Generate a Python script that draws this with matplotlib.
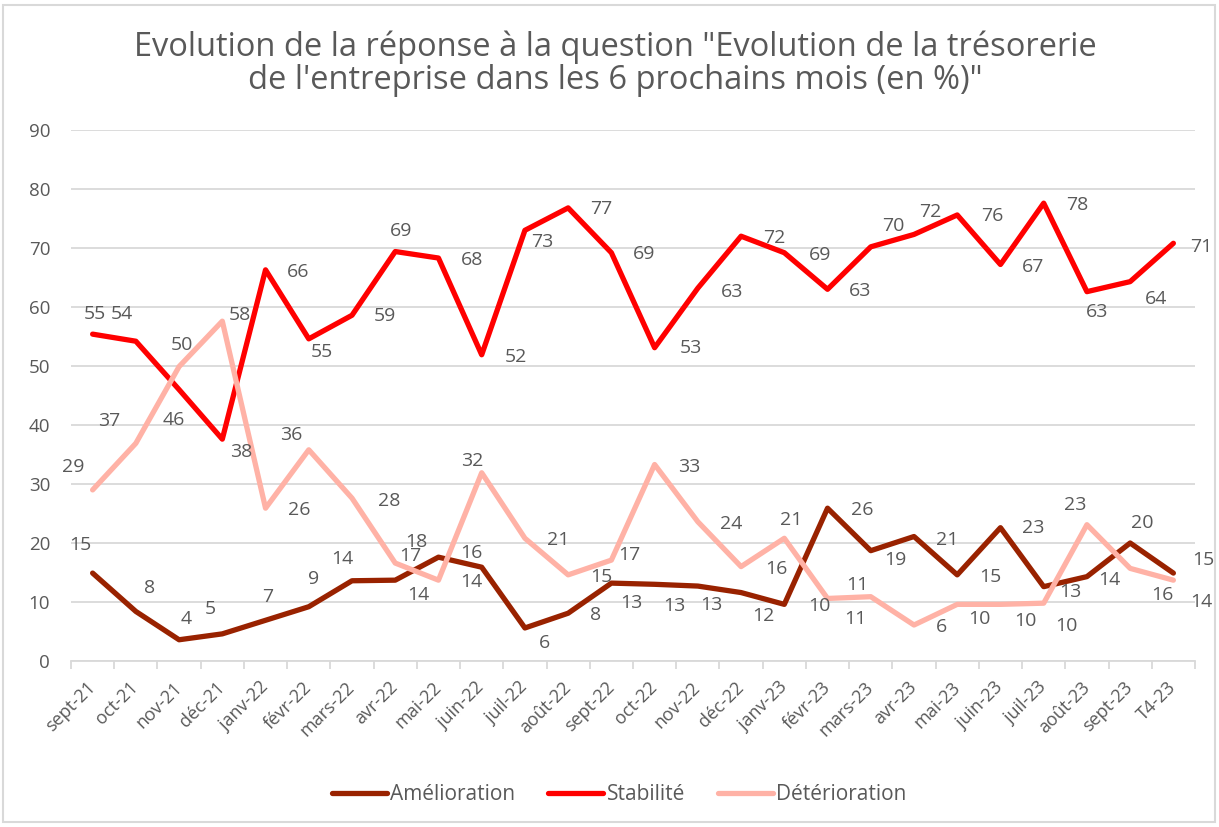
import numpy as np
import matplotlib.pyplot as plt
from matplotlib.patches import Rectangle

# Categories (months) and the three series, in %
mois = ['sept-21', 'oct-21', 'nov-21', 'déc-21', 'janv-22', 'févr-22', 'mars-22',
        'avr-22', 'mai-22', 'juin-22', 'juil-22', 'août-22', 'sept-22', 'oct-22',
        'nov-22', 'déc-22', 'janv-23', 'févr-23', 'mars-23', 'avr-23', 'mai-23',
        'juin-23', 'juil-23', 'août-23', 'sept-23', 'T4-23']

amelioration = [14.9, 8.4, 3.6, 4.6, 6.9, 9.2, 13.6, 13.7, 17.6, 15.9, 5.6, 8.1, 13.2,
                13.0, 12.7, 11.6, 9.6, 25.9, 18.7, 21.1, 14.6, 22.6, 12.6, 14.3, 20.0, 14.9]
stabilite = [55.4, 54.2, 46.0, 37.6, 66.3, 54.6, 58.6, 69.4, 68.3, 51.9, 73.0, 76.8, 69.2,
             53.1, 63.2, 72.0, 69.2, 63.0, 70.2, 72.3, 75.6, 67.2, 77.6, 62.6, 64.3, 70.8]
deterioration = [29.0, 36.9, 49.9, 57.6, 25.9, 35.8, 27.6, 16.6, 13.7, 31.9, 20.8, 14.6, 17.1,
                 33.3, 23.6, 16.0, 20.8, 10.6, 10.9, 6.1, 9.6, 9.6, 9.8, 23.1, 15.7, 13.7]

# label placement, pixel offsets (dx, dy downwards) from each point
off_amel = [(-12, -28), (14, -23), (7, -21), (-12, -25), (2, -23), (5, -28), (-10, -22),
            (23, 15), (-22, -15), (-10, -14), (20, 15), (27, 2), (20, 20), (20, 22), (13, 19),
            (22, 23), (35, 2), (35, 2), (25, 9), (33, 3), (33, 2), (33, 0), (27, 5), (22, 3),
            (12, -20), (30, -13)]
off_stab = [(2, -20), (-14, -27), (-5, 30), (19, 13), (33, 2), (13, 13), (33, 1), (6, -21),
            (34, 2), (34, 2), (17, 12), (33, 1), (33, 1), (36, 0), (34, 4), (33, 2), (36, 2),
            (33, 2), (23, -21), (16, -22), (35, 1), (33, 2), (34, 2), (10, 20), (26, 17), (28, 4)]
off_det = [(-19, -23), (-27, -22), (3, -22), (18, -6), (34, 2), (-18, -15), (37, 3), (15, -7),
           (33, 2), (-9, -12), (33, 2), (33, 2), (18, -5), (35, 2), (33, 2), (35, 2), (7, -18),
           (30, -13), (-15, 22), (27, 2), (22, 15), (25, 17), (23, 23), (-12, -20), (32, 27),
           (28, 22)]

plt.rcParams['font.family'] = ['Open Sans', 'DejaVu Sans']
text_col = '#595959'
grid_col = '#D9D9D9'

W, H = 1219, 827
fig = plt.figure(figsize=(W / 100, H / 100), dpi=100)
ax = fig.add_axes([71 / W, 1 - 661 / H, (1195 - 71) / W, (661 - 130) / H])

x = np.arange(len(mois))
series = [('Amélioration', amelioration, '#992200', off_amel),
          ('Stabilité', stabilite, '#FF0000', off_stab),
          ('Détérioration', deterioration, '#FFB2A6', off_det)]

handles = []
for name, vals, col, offs in series:
    ln, = ax.plot(x, vals, color=col, lw=3.8, label=name,
                  solid_joinstyle='round', solid_capstyle='round')
    handles.append(ln)
    for xi, v, (dx, dy) in zip(x, vals, offs):
        ax.annotate('%.0f' % v, (xi, v), xytext=(dx, -dy), textcoords='offset pixels',
                    ha='center', va='center', fontsize=14, color=text_col,
                    annotation_clip=False)

ax.set_xlim(-0.5, len(mois) - 0.5)
ax.set_ylim(0, 90)
ax.set_yticks(range(0, 91, 10))
ax.grid(axis='y', color=grid_col, lw=1.3)
ax.set_axisbelow(True)
for s in ['top', 'right', 'left']:
    ax.spines[s].set_visible(False)
ax.spines['bottom'].set_color(grid_col)
ax.spines['bottom'].set_linewidth(1.3)

ax.set_xticks(x)
ax.set_xticklabels(mois, rotation=45, ha='right', va='center', rotation_mode='anchor')
ax.set_xticks(np.arange(-0.5, len(mois), 1), minor=True)
ax.tick_params(axis='x', which='major', length=0, pad=17, labelsize=13, labelcolor=text_col)
ax.tick_params(axis='x', which='minor', length=6, width=1.3, color=grid_col)
ax.tick_params(axis='y', length=0, pad=15, labelsize=13.5, labelcolor=text_col)

fig.text(0.505, 1 - 64 / H, 'Evolution de la réponse à la question "Evolution de la trésorerie\n'
         'de l\'entreprise dans les 6 prochains mois (en %)"',
         ha='center', va='center', fontsize=23.5, color=text_col, linespacing=0.98)

fig.legend(handles=handles, loc='center', bbox_to_anchor=(0.508, 1 - 795 / H), ncol=3,
           frameon=False, fontsize=15, handlelength=2.64, handletextpad=0.15,
           columnspacing=1.6, labelcolor=text_col)

fig.patches.append(Rectangle((3 / W, 5 / H), 1 - 7 / W, 1 - 10 / H, transform=fig.transFigure,
                             fill=False, edgecolor=grid_col, lw=1.5))

fig.savefig('out.png', dpi=100)
